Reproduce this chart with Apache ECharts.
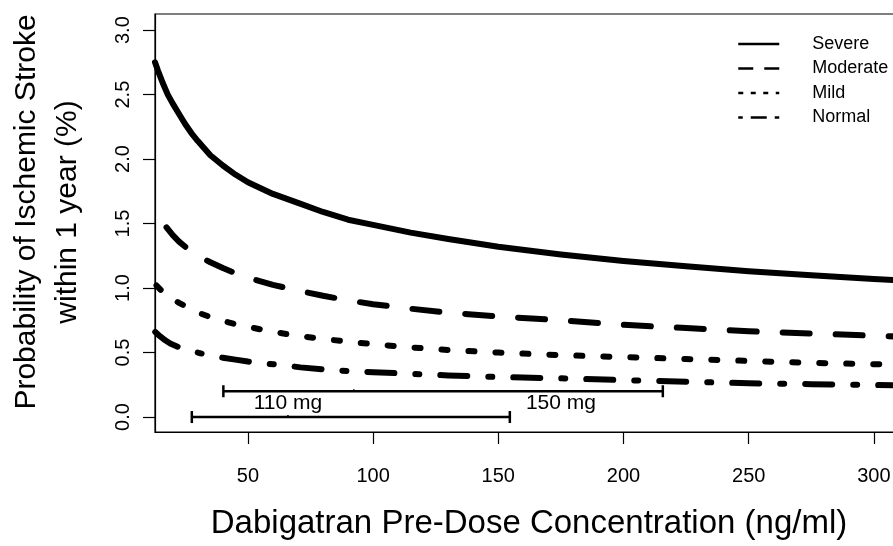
<!DOCTYPE html>
<html>
<head>
<meta charset="utf-8">
<script src="https://cdn.jsdelivr.net/npm/echarts@6/dist/echarts.min.js"></script>
<style>
html,body{margin:0;padding:0;background:#fff;}
#chart{width:893px;height:546px;}
</style>
</head>
<body>
<div id="chart"></div>
<script>
// ---- data ----
var seriesNames = ['Severe', 'Moderate', 'Mild', 'Normal'];

var severeX = [12.9, 14, 16, 18, 20, 22.5, 25, 27.5, 30, 35, 40, 45, 50, 60, 70, 80, 90, 100, 115, 130, 150, 175, 200, 225, 250, 275, 300, 325];
var severeY = [2.75, 2.69, 2.59, 2.50, 2.43, 2.35, 2.27, 2.20, 2.14, 2.03, 1.95, 1.88, 1.82, 1.73, 1.66, 1.59, 1.53, 1.49, 1.43, 1.38, 1.32, 1.26, 1.21, 1.17, 1.13, 1.10, 1.07, 1.045];

var moderateX = [17.5, 20, 22.5, 25, 27.5, 30, 35, 40, 45, 50, 60, 70, 80, 90, 100, 115, 130, 150, 175, 200, 225, 250, 275, 300, 325];
var moderateY = [1.47, 1.41, 1.36, 1.32, 1.28, 1.25, 1.20, 1.155, 1.115, 1.08, 1.025, 0.98, 0.94, 0.905, 0.875, 0.84, 0.81, 0.78, 0.75, 0.715, 0.69, 0.665, 0.648, 0.63, 0.615];

var mildX = [13.5, 16, 18, 20, 22.5, 25, 27.5, 30, 35, 40, 45, 50, 60, 70, 80, 90, 100, 115, 130, 150, 175, 200, 225, 250, 275, 300, 325];
var mildY = [1.02, 0.97, 0.94, 0.915, 0.885, 0.86, 0.835, 0.81, 0.775, 0.745, 0.72, 0.70, 0.66, 0.63, 0.605, 0.585, 0.565, 0.54, 0.52, 0.50, 0.48, 0.465, 0.45, 0.435, 0.42, 0.41, 0.40];

var normalX = [13, 15, 17, 19, 22, 25, 28, 32, 36, 40, 45, 50, 57, 65, 71, 80, 87, 100, 115, 130, 150, 175, 200, 225, 250, 275, 300, 325];
var normalY = [0.66, 0.625, 0.595, 0.57, 0.545, 0.525, 0.51, 0.49, 0.47, 0.46, 0.445, 0.43, 0.415, 0.40, 0.385, 0.37, 0.36, 0.348, 0.335, 0.323, 0.31, 0.30, 0.286, 0.274, 0.262, 0.255, 0.248, 0.242];

// dose ranges (horizontal bars)
var doseLabels = ['110 mg', '150 mg'];
var doseLow = [27.6, 40.2];
var doseMid = [66, 92.3];
var doseHigh = [154.6, 215.7];
var doseLevel = [0, 0.2];
var doseLabelX = [66, 175];
var doseLabelY = [0.108, 0.108];

// axes
var xTicks = [50, 100, 150, 200, 250, 300];
var yTicks = [0, 0.5, 1, 1.5, 2, 2.5, 3];
var xRange = [12.9, 320.4];
var yRange = [-0.116, 3.125];

var xTitle = 'Dabigatran Pre-Dose Concentration (ng/ml)';
var yTitle1 = 'Probability of Ischemic Stroke';
var yTitle2 = 'within 1 year (%)';

// ---- build ----
function pairs(xs, ys) { return xs.map(function (x, i) { return [x, ys[i]]; }); }
var FONT = 'Liberation Sans, Arial, Helvetica, sans-serif';

var curveDash = ['solid', [27, 26], [6, 21], [27, 21, 4, 21]];
var legendDash = ['solid', [15, 11], [5, 7.5], [4.5, 8, 16, 8]];
var curveData = [pairs(severeX, severeY), pairs(moderateX, moderateY), pairs(mildX, mildY), pairs(normalX, normalY)];

var series = seriesNames.map(function (name, i) {
  return {
    name: name,
    type: 'line',
    data: curveData[i],
    smooth: false,
    symbol: 'none',
    showSymbol: false,
    clip: true,
    itemStyle: { color: '#000' },
    lineStyle: { color: '#000', width: 6, type: curveDash[i], cap: 'round', join: 'round' },
    z: 3
  };
});

series.push({
  type: 'custom',
  name: 'doses',
  clip: false,
  data: doseLabels.map(function (l, i) { return [doseLow[i], doseHigh[i], doseMid[i], doseLevel[i], doseLabelX[i], doseLabelY[i]]; }),
  renderItem: function (params, api) {
    var lo = api.coord([api.value(0), api.value(3)]);
    var hi = api.coord([api.value(1), api.value(3)]);
    var md = api.coord([api.value(2), api.value(3)]);
    var lp = api.coord([api.value(4), api.value(5)]);
    var st = { stroke: '#000', lineWidth: 2.5 };
    return {
      type: 'group',
      children: [
        { type: 'line', shape: { x1: lo[0], y1: lo[1], x2: hi[0], y2: hi[1] }, style: st },
        { type: 'line', shape: { x1: lo[0], y1: lo[1] - 6, x2: lo[0], y2: lo[1] + 6 }, style: st },
        { type: 'line', shape: { x1: hi[0], y1: hi[1] - 6, x2: hi[0], y2: hi[1] + 6 }, style: st },
        { type: 'line', shape: { x1: md[0], y1: md[1] - 2, x2: md[0], y2: md[1] }, style: { stroke: '#000', lineWidth: 1.5 } },
        { type: 'text', x: lp[0], y: lp[1], style: { text: doseLabels[params.dataIndex], fill: '#000', font: '21px ' + FONT, align: 'center', verticalAlign: 'middle' } }
      ]
    };
  },
  z: 4
});

var chart = echarts.init(document.getElementById('chart'), null, { renderer: 'canvas' });
chart.setOption({
  animation: false,
  backgroundColor: '#fff',
  grid: { left: 155, top: 14, bottom: 114, width: 770, outerBoundsMode: 'none', containLabel: false,
    show: true, borderColor: '#000', borderWidth: 1.2, backgroundColor: 'transparent' },
  xAxis: {
    type: 'value', min: xRange[0], max: xRange[1],
    axisLine: { show: true, onZero: false, lineStyle: { color: '#000', width: 1.2 } },
    axisTick: { show: true, length: 12, customValues: xTicks, lineStyle: { color: '#000', width: 1.2 } },
    axisLabel: { customValues: xTicks, margin: 34, fontSize: 20, color: '#000', fontFamily: FONT },
    splitLine: { show: false }
  },
  yAxis: {
    type: 'value', min: yRange[0], max: yRange[1],
    axisLine: { show: true, onZero: false, lineStyle: { color: '#000', width: 1.2 } },
    axisTick: { show: true, length: 12, customValues: yTicks, lineStyle: { color: '#000', width: 1.2 } },
    axisLabel: { customValues: yTicks, rotate: 90, margin: 22, fontSize: 20, color: '#000', fontFamily: FONT,
      formatter: function (v) { return v.toFixed(1); } },
    splitLine: { show: false }
  },
  legend: {
    orient: 'vertical', left: 737, top: 35, padding: 0, itemWidth: 41, itemHeight: 14, itemGap: 6.5,
    selectedMode: false,
    textStyle: { fontSize: 18, color: '#000', fontFamily: FONT, padding: [0, 0, 0, 28] },
    data: seriesNames.map(function (n, i) {
      return { name: n, itemStyle: { opacity: 0 }, lineStyle: { width: 2.5, color: '#000', type: legendDash[i], cap: 'butt' } };
    })
  },
  graphic: [
    { type: 'text', x: 529, y: 524, style: { text: xTitle, fill: '#000', font: '33px ' + FONT, align: 'center', verticalAlign: 'middle' } },
    { type: 'text', x: 27, y: 212, rotation: Math.PI / 2, style: { text: yTitle1, fill: '#000', font: '30px ' + FONT, align: 'center', verticalAlign: 'middle' } },
    { type: 'text', x: 68, y: 212, rotation: Math.PI / 2, style: { text: yTitle2, fill: '#000', font: '30px ' + FONT, align: 'center', verticalAlign: 'middle' } }
  ],
  series: series
});
</script>
</body>
</html>
